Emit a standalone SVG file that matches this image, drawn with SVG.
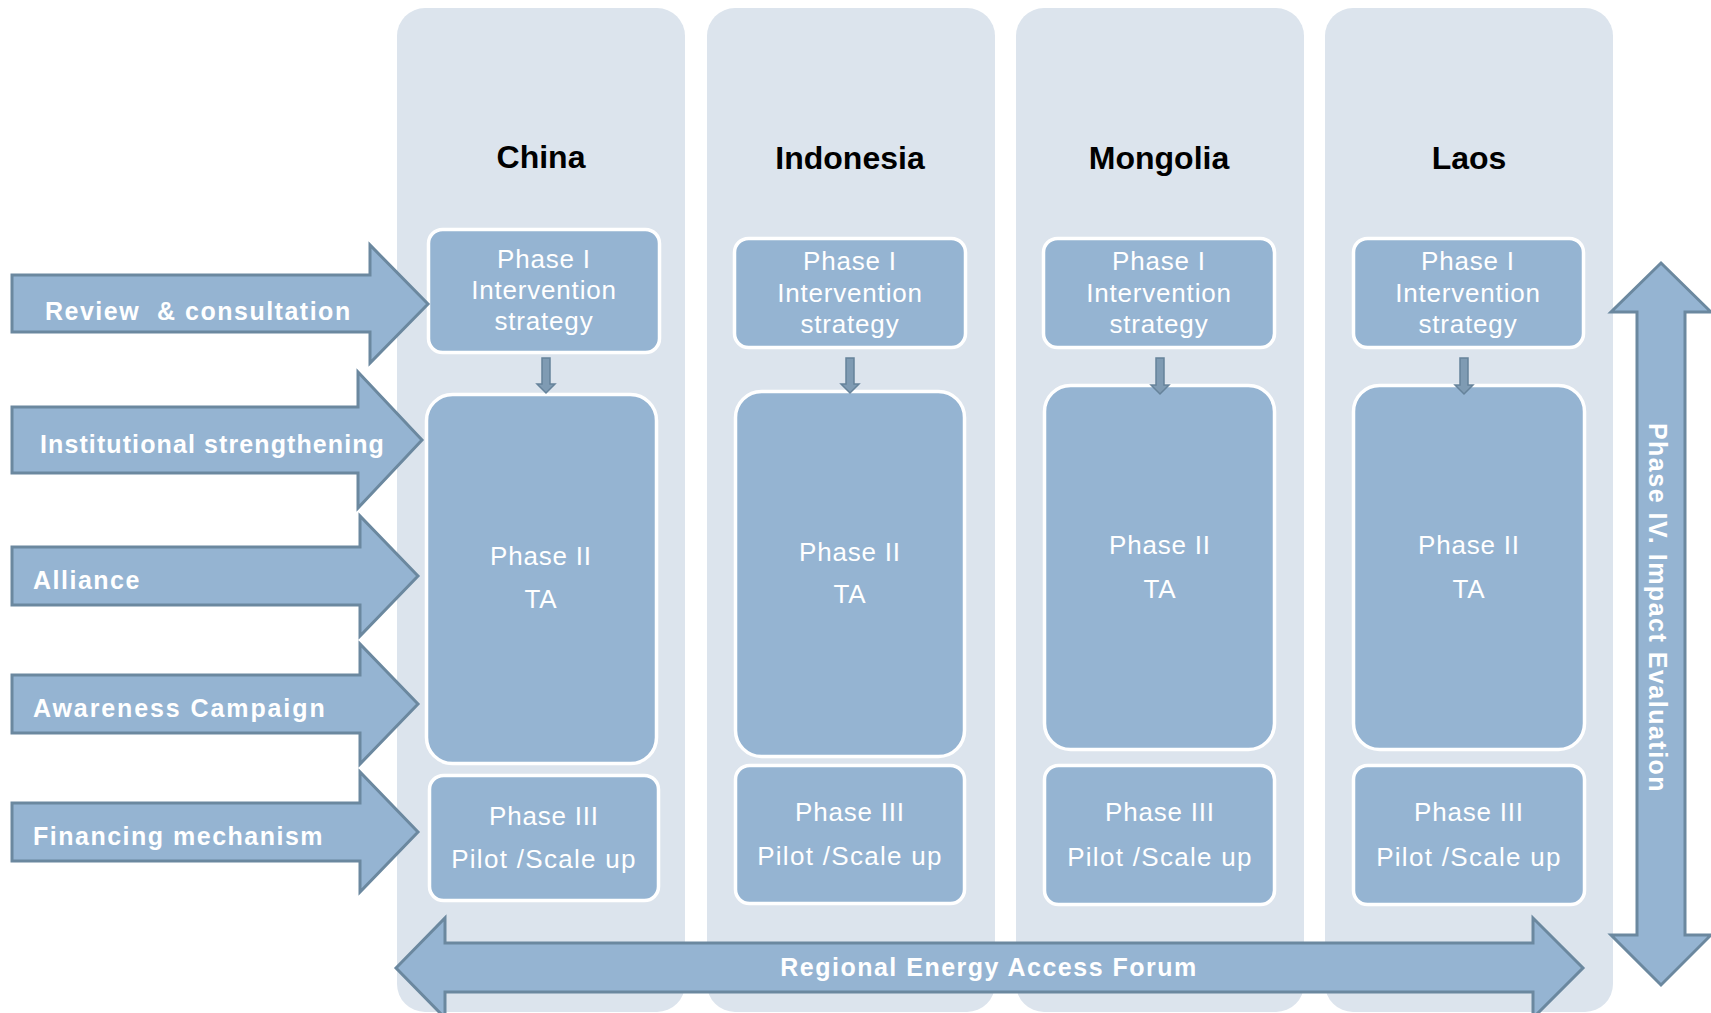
<svg xmlns="http://www.w3.org/2000/svg" width="1711" height="1013" viewBox="0 0 1711 1013">
<style>
.col{fill:#dce4ed}
.box{fill:#95b4d2;stroke:#ffffff;stroke-width:3.5}
.arr{fill:#95b4d2;stroke:#6b889f;stroke-width:3;stroke-linejoin:miter}
.dn{fill:#7f9bb3;stroke:#66839b;stroke-width:1.5}
.title{font-family:"Liberation Sans",Arial,sans-serif;font-weight:bold;font-size:32px;fill:#000;text-anchor:middle}
.bt{font-family:"Liberation Sans",Arial,sans-serif;font-size:26px;fill:#ffffff;text-anchor:middle;letter-spacing:0.8px}
.lbl{font-family:"Liberation Sans",Arial,sans-serif;font-weight:bold;font-size:25px;fill:#ffffff;letter-spacing:1.5px}
</style>
<rect width="1711" height="1013" fill="#ffffff"/>

<g id="col-china">
<rect class="col" x="397" y="8" width="288" height="1004" rx="28"/>
<text class="title" x="541" y="168">China</text>
</g>
<g id="col-indonesia">
<rect class="col" x="707" y="8" width="288" height="1004" rx="28"/>
<text class="title" x="850" y="169">Indonesia</text>
</g>
<g id="col-mongolia">
<rect class="col" x="1016" y="8" width="288" height="1004" rx="28"/>
<text class="title" x="1159" y="169">Mongolia</text>
</g>
<g id="col-laos">
<rect class="col" x="1325" y="8" width="288" height="1004" rx="28"/>
<text class="title" x="1469" y="169">Laos</text>
</g>

<g id="china-p1"><rect class="box" x="428.5" y="229.5" width="231" height="123" rx="14"/>
<text class="bt"><tspan x="544" y="268">Phase I</tspan><tspan x="544" y="299">Intervention</tspan><tspan x="544" y="330">strategy</tspan></text></g>
<g id="indonesia-p1"><rect class="box" x="734.5" y="238.5" width="231" height="109" rx="14"/>
<text class="bt"><tspan x="850" y="270">Phase I</tspan><tspan x="850" y="302">Intervention</tspan><tspan x="850" y="333">strategy</tspan></text></g>
<g id="mongolia-p1"><rect class="box" x="1043.5" y="238.5" width="231" height="109" rx="14"/>
<text class="bt"><tspan x="1159" y="270">Phase I</tspan><tspan x="1159" y="302">Intervention</tspan><tspan x="1159" y="333">strategy</tspan></text></g>
<g id="laos-p1"><rect class="box" x="1353.5" y="238.5" width="230" height="109" rx="14"/>
<text class="bt"><tspan x="1468" y="270">Phase I</tspan><tspan x="1468" y="302">Intervention</tspan><tspan x="1468" y="333">strategy</tspan></text></g>

<g id="china-p2"><rect class="box" x="426.5" y="394.5" width="230" height="369" rx="26"/>
<text class="bt"><tspan x="541" y="565">Phase II</tspan><tspan x="541" y="608">TA</tspan></text></g>
<g id="indonesia-p2"><rect class="box" x="735.5" y="391.5" width="229" height="365" rx="26"/>
<text class="bt"><tspan x="850" y="561">Phase II</tspan><tspan x="850" y="603">TA</tspan></text></g>
<g id="mongolia-p2"><rect class="box" x="1044.5" y="385.5" width="230" height="364" rx="26"/>
<text class="bt"><tspan x="1160" y="554">Phase II</tspan><tspan x="1160" y="598">TA</tspan></text></g>
<g id="laos-p2"><rect class="box" x="1353.5" y="385.5" width="231" height="364" rx="26"/>
<text class="bt"><tspan x="1469" y="554">Phase II</tspan><tspan x="1469" y="598">TA</tspan></text></g>

<g id="china-p3"><rect class="box" x="429.5" y="775.5" width="229" height="125" rx="14"/>
<text class="bt"><tspan x="544" y="825">Phase III</tspan><tspan x="544" y="868" letter-spacing="1.3">Pilot /Scale up</tspan></text></g>
<g id="indonesia-p3"><rect class="box" x="735.5" y="765.5" width="229" height="138" rx="14"/>
<text class="bt"><tspan x="850" y="821">Phase III</tspan><tspan x="850" y="865" letter-spacing="1.3">Pilot /Scale up</tspan></text></g>
<g id="mongolia-p3"><rect class="box" x="1044.5" y="765.5" width="230" height="139" rx="14"/>
<text class="bt"><tspan x="1160" y="821">Phase III</tspan><tspan x="1160" y="866" letter-spacing="1.3">Pilot /Scale up</tspan></text></g>
<g id="laos-p3"><rect class="box" x="1353.5" y="765.5" width="231" height="139" rx="14"/>
<text class="bt"><tspan x="1469" y="821">Phase III</tspan><tspan x="1469" y="866" letter-spacing="1.3">Pilot /Scale up</tspan></text></g>

<g id="connectors">
<polygon class="dn" points="542,358 550,358 550,384 555,384 546,393 537,384 542,384"/>
<polygon class="dn" points="846,358 854,358 854,384 859,384 850,393 841,384 846,384"/>
<polygon class="dn" points="1156,358 1164,358 1164,385 1169,385 1160,394 1151,385 1156,385"/>
<polygon class="dn" points="1460,358 1468,358 1468,385 1473,385 1464,394 1455,385 1460,385"/>
</g>

<g id="arrow-review">
<polygon class="arr" points="12,275 370,275 370,245 428,304 370,363 370,332 12,332"/>
<text class="lbl" x="45" y="320" xml:space="preserve" style="white-space:pre">Review  &amp; consultation</text>
</g>
<g id="arrow-institutional">
<polygon class="arr" points="12,407 358,407 358,372 422,440 358,508 358,473 12,473"/>
<text class="lbl" x="40" y="453" style="letter-spacing:1.1px">Institutional strengthening</text>
</g>
<g id="arrow-alliance">
<polygon class="arr" points="12,547 360,547 360,516 418,576 360,636 360,605 12,605"/>
<text class="lbl" x="33" y="589">Alliance</text>
</g>
<g id="arrow-awareness">
<polygon class="arr" points="12,675 360,675 360,644 418,704 360,764 360,733 12,733"/>
<text class="lbl" x="33" y="717" style="letter-spacing:1.9px">Awareness Campaign</text>
</g>
<g id="arrow-financing">
<polygon class="arr" points="12,803 360,803 360,772 418,832 360,892 360,861 12,861"/>
<text class="lbl" x="33" y="845">Financing mechanism</text>
</g>

<g id="arrow-forum">
<polygon class="arr" points="396,968 445,918 445,943 1533,943 1533,918 1583,968 1533,1018 1533,992 445,992 445,1018"/>
<text class="lbl" x="989" y="976" text-anchor="middle">Regional Energy Access Forum</text>
</g>

<g id="arrow-impact">
<polygon class="arr" points="1661,263 1711,312 1685,312 1685,935 1711,935 1661,985 1611,935 1637,935 1637,312 1611,312"/>
<text class="lbl" transform="translate(1649,608) rotate(90)" x="0" y="0" text-anchor="middle">Phase IV. Impact Evaluation</text>
</g>
</svg>
